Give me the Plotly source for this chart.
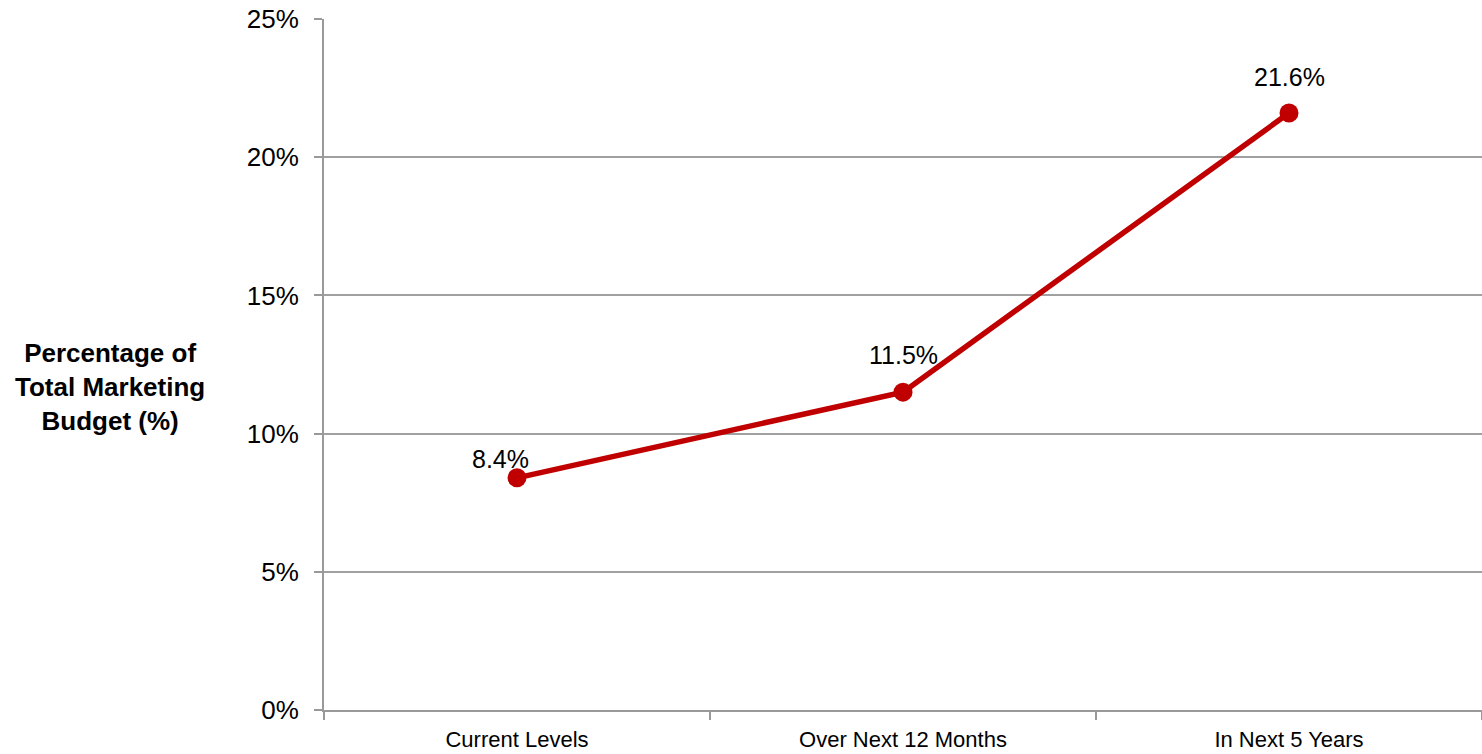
import plotly.graph_objects as go

categories = ["Current Levels", "Over Next 12 Months", "In Next 5 Years"]
values = [8.4, 11.5, 21.6]
labels = ["8.4%", "11.5%", "21.6%"]
label_xshift = [-17, 0, 0]
label_yshift = [19, 37, 36]

fig = go.Figure()
fig.add_trace(go.Scatter(
    x=categories, y=values, mode="lines+markers",
    line=dict(color="#C00000", width=5.5),
    marker=dict(color="#C00000", size=19),
    hoverinfo="skip", showlegend=False,
))
for c, v, t, dx, dy in zip(categories, values, labels, label_xshift, label_yshift):
    fig.add_annotation(x=c, y=v, text=t, showarrow=False, xshift=dx, yshift=dy,
                       font=dict(family="Liberation Sans, Arial", size=25, color="black"))

fig.add_annotation(
    xref="paper", yref="paper", x=-0.1848, y=0.467,
    xanchor="center", yanchor="middle",
    text="<b>Percentage of<br>Total Marketing<br>Budget (%)</b>",
    showarrow=False, align="center",
    font=dict(family="Liberation Sans Narrow, Arial Narrow, Liberation Sans", size=26, color="black"),
)

fig.update_layout(
    width=1482, height=754,
    margin=dict(l=324, r=0, t=19, b=44),
    plot_bgcolor="white", paper_bgcolor="white",
    xaxis=dict(
        type="category", range=[-0.5, 2.5],
        showgrid=False, showline=True, linecolor="#999999", linewidth=2,
        ticks="outside", tickson="boundaries", ticklen=8, tickcolor="#999999", tickwidth=2,
        ticklabelstandoff=9,
        tickfont=dict(family="Liberation Sans Narrow, Arial Narrow, Liberation Sans", size=22, color="black"),
    ),
    yaxis=dict(
        range=[0, 25], dtick=5, ticksuffix="%",
        showgrid=True, gridcolor="#a0a0a0", gridwidth=1.5,
        showline=True, linecolor="#999999", linewidth=2,
        ticks="outside", ticklen=8, tickcolor="#999999", tickwidth=2,
        ticklabelstandoff=10,
        zeroline=False,
        tickfont=dict(family="Liberation Sans, Arial", size=26, color="black"),
    ),
)

fig.write_html("out.html")
